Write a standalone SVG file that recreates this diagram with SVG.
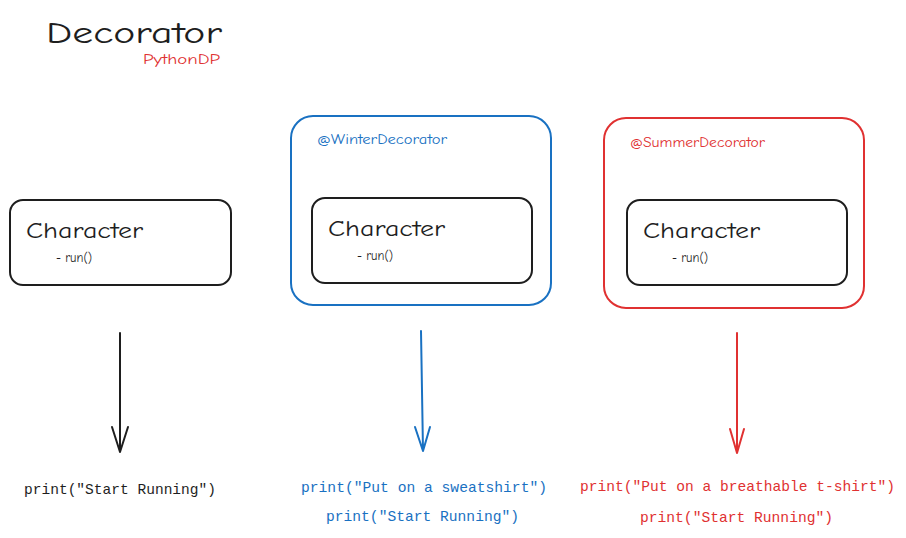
<svg xmlns="http://www.w3.org/2000/svg" width="906" height="538" viewBox="0 0 906 538">
<style>
.hand{font-family:"Comic Neue","Open Sans","Liberation Sans",sans-serif}
.mono{font-family:"Liberation Mono","DejaVu Sans Mono",monospace;font-size:14.6px}
.box{fill:none;stroke:#1e1e1e;stroke-width:2}
.blk{fill:#1e1e1e}.blu{fill:#1971c2}.red{fill:#e03131}
.arrow{fill:none;stroke-width:2;stroke-linecap:round;stroke-linejoin:round}
</style>
<rect width="906" height="538" fill="#ffffff"/>
<g id="title">
<text class="hand blk" x="46" y="43" font-size="31" textLength="176" lengthAdjust="spacingAndGlyphs">Decorator</text>
<text class="hand red" x="143" y="64" font-size="13" textLength="77" lengthAdjust="spacingAndGlyphs">PythonDP</text>
</g>
<g id="character-plain">
<rect class="box" x="10" y="200" width="221" height="85" rx="13"/>
<text class="hand blk" x="26" y="238" font-size="23" textLength="117" lengthAdjust="spacingAndGlyphs">Character</text>
<text class="hand blk" x="56" y="262" font-size="14.5" textLength="36" lengthAdjust="spacingAndGlyphs">- run()</text>
</g>
<g id="winter-decorator">
<rect x="291" y="116" width="260" height="189" rx="22" fill="none" stroke="#1971c2" stroke-width="2"/>
<text class="hand blu" x="317" y="144" font-size="13" textLength="130" lengthAdjust="spacingAndGlyphs">@WinterDecorator</text>
<rect class="box" x="312" y="198" width="220" height="85" rx="13"/>
<text class="hand blk" x="328" y="236" font-size="23" textLength="117" lengthAdjust="spacingAndGlyphs">Character</text>
<text class="hand blk" x="357" y="260" font-size="14.5" textLength="36" lengthAdjust="spacingAndGlyphs">- run()</text>
</g>
<g id="summer-decorator">
<rect x="604" y="118" width="260" height="190" rx="22" fill="none" stroke="#e03131" stroke-width="2"/>
<text class="hand red" x="630" y="147" font-size="13" textLength="135" lengthAdjust="spacingAndGlyphs">@SummerDecorator</text>
<rect class="box" x="627" y="200" width="220" height="85" rx="13"/>
<text class="hand blk" x="643" y="238" font-size="23" textLength="117" lengthAdjust="spacingAndGlyphs">Character</text>
<text class="hand blk" x="672" y="262" font-size="14.5" textLength="36" lengthAdjust="spacingAndGlyphs">- run()</text>
</g>
<g id="connectors">
<path class="arrow" stroke="#1e1e1e" d="M120 333 L120 452 M112 427 L120 452 L128 427"/>
<path class="arrow" stroke="#1971c2" d="M421 331 L423 451 M415 427 L423 451 L430 427"/>
<path class="arrow" stroke="#e03131" d="M737 333 L737 453 M730 429 L737 453 L744 429"/>
</g>
<g id="outputs">
<text class="mono blk" x="24" y="494" textLength="192" lengthAdjust="spacingAndGlyphs">print("Start Running")</text>
<text class="mono blu" x="301" y="492" textLength="246" lengthAdjust="spacingAndGlyphs">print("Put on a sweatshirt")</text>
<text class="mono blu" x="326" y="521" textLength="193" lengthAdjust="spacingAndGlyphs">print("Start Running")</text>
<text class="mono red" x="580" y="491" textLength="315" lengthAdjust="spacingAndGlyphs">print("Put on a breathable t-shirt")</text>
<text class="mono red" x="640" y="522" textLength="193" lengthAdjust="spacingAndGlyphs">print("Start Running")</text>
</g>
</svg>
